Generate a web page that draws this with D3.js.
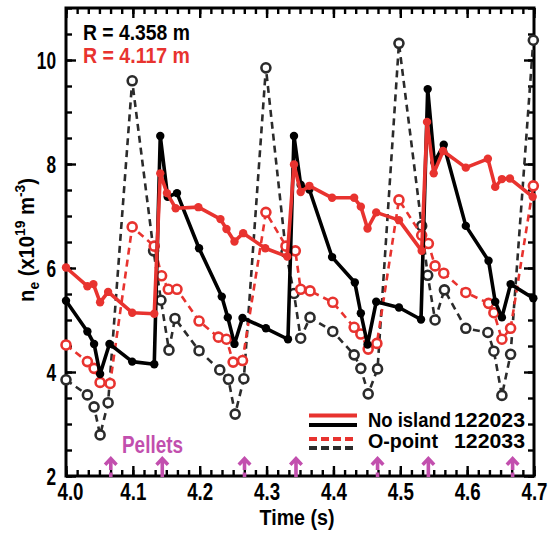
<!DOCTYPE html>
<html>
<head>
<meta charset="utf-8">
<script src="https://cdn.jsdelivr.net/npm/d3@7"></script>
<style>
  html, body { margin: 0; padding: 0; background: #fff; }
  svg text { font-family: "Liberation Sans", Arial, Helvetica, sans-serif; font-weight: bold; }
</style>
</head>
<body>
<svg id="chart" width="555" height="533"></svg>
<script>
// ---- Data (time in s, density in 1e19 m^-3) ----
const noIslandOuterT = [4.000,4.032,4.042,4.051,4.065,4.099,4.132,4.141,4.152,4.166,4.199,4.233,4.242,4.252,4.264,4.299,4.332,4.341,4.351,4.364,4.398,4.432,4.441,4.451,4.464,4.498,4.531,4.541,4.551,4.565,4.598,4.632,4.642,4.652,4.665,4.699];
const noIslandOuterV = [5.37,4.78,4.54,3.96,4.54,4.20,4.15,8.54,7.37,7.44,6.38,5.45,5.05,4.54,5.04,4.84,4.63,8.54,7.60,7.51,6.21,5.72,5.13,4.53,5.35,5.24,5.01,9.44,8.03,8.37,6.81,6.14,5.35,5.05,5.69,5.42];

const noIslandInnerT = [4.000,4.032,4.041,4.051,4.063,4.099,4.132,4.141,4.151,4.164,4.198,4.231,4.240,4.252,4.265,4.298,4.331,4.341,4.351,4.364,4.398,4.431,4.441,4.451,4.464,4.498,4.532,4.540,4.550,4.564,4.598,4.631,4.642,4.652,4.664,4.698];
const noIslandInnerV = [6.01,5.65,5.69,5.34,5.54,5.14,5.12,7.82,7.44,7.15,7.17,6.94,6.75,6.51,6.67,6.38,6.22,7.99,7.46,7.58,7.35,7.35,7.18,6.76,7.07,6.92,6.33,8.81,7.82,8.25,7.93,8.10,7.56,7.71,7.72,7.37];

const oPointOuterT = [4.000,4.032,4.042,4.051,4.063,4.099,4.131,4.142,4.154,4.163,4.199,4.230,4.243,4.253,4.266,4.299,4.329,4.341,4.351,4.365,4.399,4.431,4.441,4.452,4.466,4.498,4.532,4.541,4.552,4.566,4.598,4.631,4.640,4.652,4.665,4.699];
const oPointOuterV = [3.85,3.56,3.33,2.79,3.41,9.60,6.33,5.38,4.42,5.03,4.41,4.04,3.86,3.19,3.87,9.85,6.30,5.51,4.65,5.05,4.78,4.33,4.07,3.58,4.06,10.32,6.81,5.86,5.00,5.58,4.84,4.76,4.40,3.55,4.34,10.38];

const oPointInnerT = [4.000,4.032,4.042,4.051,4.066,4.099,4.132,4.143,4.153,4.166,4.199,4.228,4.240,4.250,4.264,4.299,4.329,4.343,4.351,4.365,4.399,4.431,4.441,4.452,4.465,4.498,4.532,4.542,4.552,4.565,4.598,4.632,4.640,4.652,4.665,4.699];
const oPointInnerV = [4.52,4.20,4.07,3.80,3.78,6.79,6.42,5.85,5.59,5.59,4.98,4.67,4.63,4.19,4.22,7.07,6.42,6.33,5.59,5.56,5.34,4.86,4.73,4.44,4.55,7.31,6.63,6.47,6.04,5.90,5.53,5.32,5.14,4.63,4.84,7.58];

const pelletSolidT  = [4.144, 4.344, 4.542];
const pelletDashedT = [4.067, 4.267, 4.466, 4.668];

const xTicks = [4.0, 4.1, 4.2, 4.3, 4.4, 4.5, 4.6, 4.7];
const yTicks = [2, 4, 6, 8, 10];
const radiusLabels = ["R = 4.358 m", "R = 4.117 m"];
const legendLabels = ["No island", "O-point"];
const shotLabels = ["122023", "122033"];

// ---- Layout ----
const RED = "#e8332f", BLACK = "#000", DGRAY = "#2b2b2b", MAG = "#c24fae";
const svg = d3.select("#chart");
const L = 66, R = 534, T = 8, B = 476;
const x = d3.scaleLinear().domain([4.0, 4.7]).range([L, R]);
const y = d3.scaleLinear().domain([2, 11]).range([B, T]);

const zip = (ts, vs) => ts.map((t, i) => [t, vs[i]]);
const line = d3.line().x(d => x(d[0])).y(d => y(d[1]));

// condensed text: draws text and squeezes it horizontally to a target width
function fitText(parent, px, py, build, size, target, anchor, color, rot) {
  const g = parent.append("g").attr("transform", `translate(${px},${py})${rot ? " rotate(" + rot + ")" : ""}`);
  const t = g.append("text").attr("text-anchor", anchor || "start").attr("fill", color || "#000")
    .style("font-size", size + "px");
  if (typeof build === "string") t.text(build); else build(t);
  const w = t.node().getBBox().width;
  t.attr("transform", `scale(${target / w},1)`);
  return t;
}

// ---- Axes (ticks inward on all sides) ----
const xMinor = d3.range(0, 43).map(i => 4.0 + i * 0.1 / 6).filter(v => v <= 4.7001);
const yMinor = d3.range(2, 11.001, 0.5);
function axisGroup(axis, tr) { return svg.append("g").attr("transform", tr).call(axis); }
const fmt = d3.format(".1f");
axisGroup(d3.axisBottom(x).tickValues(xMinor).tickSize(-6).tickFormat(""), `translate(0,${B})`);
const gxb2 = axisGroup(d3.axisBottom(x).tickValues(xTicks).tickSize(-10).tickPadding(6).tickFormat(fmt), `translate(0,${B})`);
axisGroup(d3.axisTop(x).tickValues(xMinor).tickSize(-6).tickFormat(""), `translate(0,${T})`);
axisGroup(d3.axisTop(x).tickValues(xTicks).tickSize(-10).tickFormat(""), `translate(0,${T})`);
axisGroup(d3.axisLeft(y).tickValues(yMinor).tickSize(-6).tickFormat(""), `translate(${L},0)`);
const gyl2 = axisGroup(d3.axisLeft(y).tickValues(yTicks).tickSize(-10).tickPadding(10).tickFormat(d3.format("d")), `translate(${L},0)`);
axisGroup(d3.axisRight(y).tickValues(yMinor).tickSize(-6).tickFormat(""), `translate(${R},0)`);
axisGroup(d3.axisRight(y).tickValues(yTicks).tickSize(-10).tickFormat(""), `translate(${R},0)`);
svg.selectAll(".domain").remove();
svg.selectAll(".tick line").attr("stroke", "#000").attr("stroke-width", 2.4);
svg.selectAll(".tick text").attr("fill", "#000").style("font-size", "24px");
gxb2.selectAll(".tick text").attr("dy", "0.75em").each(function (d) {
  const s = 0.78; const t = d3.select(this);
  const shift = d === 4.0 ? 4 : 0; // keep the first label clear of the "2" label
  t.attr("transform", `scale(${s},1)`).attr("x", shift / s);
});
gyl2.selectAll(".tick text").attr("dy", "0.36em").each(function () {
  const s = 0.72; const t = d3.select(this);
  t.attr("transform", `scale(${s},1)`).attr("x", -10 / s);
});

svg.append("rect").attr("x", L).attr("y", T).attr("width", R - L).attr("height", B - T)
  .attr("fill", "none").attr("stroke", "#000").attr("stroke-width", 3);

// ---- Series ----
function drawSeries(data, color, dashed, lw) {
  svg.append("path").datum(data).attr("d", line).attr("fill", "none")
    .attr("stroke", color).attr("stroke-width", lw)
    .attr("stroke-linejoin", "round")
    .attr("stroke-dasharray", dashed ? "7,5" : null);
  const g = svg.append("g");
  if (dashed) {
    g.selectAll("circle").data(data).join("circle")
      .attr("cx", d => x(d[0])).attr("cy", d => y(d[1])).attr("r", 4.5)
      .attr("fill", "#fff").attr("stroke", color).attr("stroke-width", 2.6);
  } else {
    g.selectAll("circle").data(data).join("circle")
      .attr("cx", d => x(d[0])).attr("cy", d => y(d[1])).attr("r", 4.2)
      .attr("fill", color);
  }
}
drawSeries(zip(oPointOuterT, oPointOuterV), DGRAY, true, 2.6);
drawSeries(zip(oPointInnerT, oPointInnerV), RED, true, 2.6);
drawSeries(zip(noIslandOuterT, noIslandOuterV), BLACK, false, 3.6);
drawSeries(zip(noIslandInnerT, noIslandInnerV), RED, false, 3.6);

// ---- Pellet arrows ----
function arrow(t, dashed) {
  const cx = x(t);
  const g = svg.append("g");
  g.append("path").attr("fill", MAG)
    .attr("d", `M${cx},456 L${cx + 7},463.5 L${cx + 4.5},466 L${cx},461.5 L${cx - 4.5},466 L${cx - 7},463.5 Z`);
  if (dashed) {
    g.append("rect").attr("x", cx - 1.8).attr("y", 459).attr("width", 3.6).attr("height", 11).attr("fill", MAG);
    g.append("rect").attr("x", cx - 1.8).attr("y", 472.5).attr("width", 3.6).attr("height", 4.5).attr("fill", MAG);
  } else {
    g.append("rect").attr("x", cx - 1.8).attr("y", 459).attr("width", 3.6).attr("height", 18).attr("fill", MAG);
  }
}
pelletSolidT.forEach(t => arrow(t, false));
pelletDashedT.forEach(t => arrow(t, true));
fitText(svg, 122, 452.5, "Pellets", 23.5, 61, "start", MAG);

// ---- Radius labels ----
fitText(svg, 83, 40, radiusLabels[0], 22.5, 107, "start", BLACK);
fitText(svg, 83, 63, radiusLabels[1], 22.5, 107, "start", RED);

// ---- Legend ----
const lg = svg.append("g");
lg.append("line").attr("x1", 309).attr("x2", 357).attr("y1", 415.5).attr("y2", 415.5).attr("stroke", RED).attr("stroke-width", 4);
lg.append("line").attr("x1", 309).attr("x2", 357).attr("y1", 425).attr("y2", 425).attr("stroke", BLACK).attr("stroke-width", 4);
lg.append("line").attr("x1", 309).attr("x2", 357).attr("y1", 439).attr("y2", 439).attr("stroke", RED).attr("stroke-width", 4).attr("stroke-dasharray", "8,4");
lg.append("line").attr("x1", 309).attr("x2", 357).attr("y1", 448).attr("y2", 448).attr("stroke", DGRAY).attr("stroke-width", 4).attr("stroke-dasharray", "8,4");
fitText(lg, 368, 427, legendLabels[0], 21, 83, "start");
fitText(lg, 525, 427, shotLabels[0], 21, 71, "end");
fitText(lg, 368, 448, legendLabels[1], 21, 70, "start");
fitText(lg, 525, 448, shotLabels[1], 21, 71, "end");

// ---- Axis titles ----
fitText(svg, 297, 525, "Time (s)", 22, 75, "middle");
fitText(svg, 34, 240, t => {
  t.append("tspan").text("n");
  t.append("tspan").attr("dy", 5).style("font-size", "15px").text("e");
  t.append("tspan").attr("dy", -5).text(" (x10");
  t.append("tspan").attr("dy", -9).style("font-size", "15px").text("19");
  t.append("tspan").attr("dy", 9).text(" m");
  t.append("tspan").attr("dy", -9).style("font-size", "15px").text("-3");
  t.append("tspan").attr("dy", 9).text(")");
}, 22, 124, "middle", BLACK, -90);
</script>
</body>
</html>
